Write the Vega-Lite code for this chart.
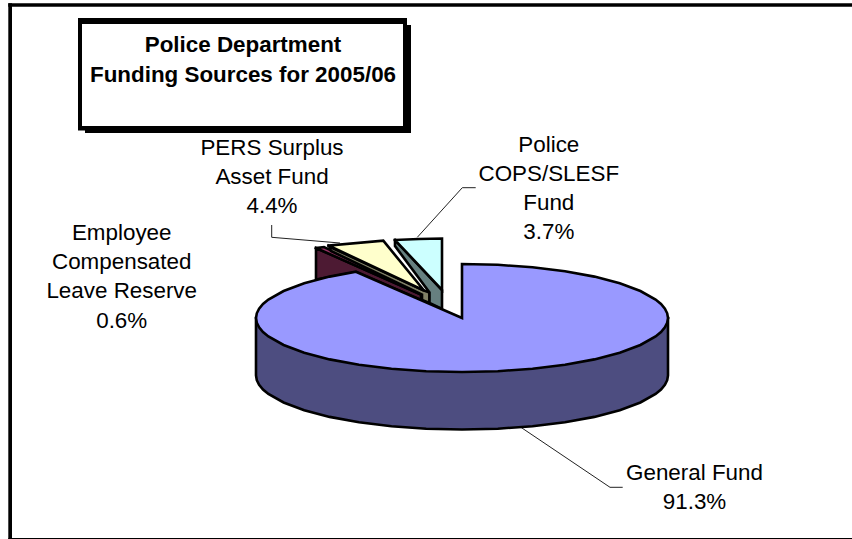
{
  "$schema": "https://vega.github.io/schema/vega-lite/v6.json",
  "width": 852,
  "height": 539,
  "padding": 0,
  "autosize": "none",
  "background": "white",
  "config": {"view": {"stroke": null}, "text": {"font": "Liberation Sans"}},
  "resolve": {"scale": {"fill": "independent"}},
  "encoding": {
    "x": {"type": "quantitative", "scale": {"domain": [0, 852], "nice": false, "zero": false}, "axis": null},
    "y": {"type": "quantitative", "scale": {"domain": [539, 0], "nice": false, "zero": false}, "axis": null}
  },
  "layer": [
    {
      "data": {"values": [
        {"part": "frame", "x": 8.3, "x2": 12, "y": 3.3, "y2": 539},
        {"part": "frame", "x": 8.3, "x2": 852, "y": 3.3, "y2": 6.7},
        {"part": "frame", "x": 8.3, "x2": 852, "y": 538, "y2": 539},
        {"part": "frame", "x": 85, "x2": 411, "y": 25, "y2": 133},
        {"part": "frame", "x": 78, "x2": 407, "y": 18, "y2": 130.5},
        {"part": "panel", "x": 82, "x2": 403, "y": 24, "y2": 126}
      ]},
      "mark": {"type": "rect"},
      "encoding": {
        "x": {"field": "x"},
        "x2": {"field": "x2"},
        "y": {"field": "y"},
        "y2": {"field": "y2"},
        "fill": {"field": "part", "scale": {"domain": ["frame", "panel"], "range": ["#000000", "#ffffff"]}, "legend": null}
      }
    },
    {
      "data": {"values": [
        {"label": "General Fund", "i": 0, "x": 520, "y": 426.7},
        {"label": "General Fund", "i": 1, "x": 610, "y": 487.3},
        {"label": "General Fund", "i": 2, "x": 622.7, "y": 487.3},
        {"label": "PERS", "i": 0, "x": 271.7, "y": 225},
        {"label": "PERS", "i": 1, "x": 271.7, "y": 237.3},
        {"label": "PERS", "i": 2, "x": 340, "y": 243},
        {"label": "Police", "i": 0, "x": 475.7, "y": 187.7},
        {"label": "Police", "i": 1, "x": 462.3, "y": 187.7},
        {"label": "Police", "i": 2, "x": 417.3, "y": 237.3}
      ]},
      "mark": {"type": "line", "stroke": "#222222", "strokeWidth": 1},
      "encoding": {
        "x": {"field": "x"},
        "y": {"field": "y"},
        "detail": {"field": "label"},
        "order": {"field": "i"}
      }
    },
    {
      "data": {"values": [
        {"face": "leave wall", "i": 0, "x": 316, "y": 248},
        {"face": "leave wall", "i": 1, "x": 421, "y": 294.5},
        {"face": "leave wall", "i": 2, "x": 421, "y": 300},
        {"face": "leave wall", "i": 3, "x": 356, "y": 272},
        {"face": "leave wall", "i": 4, "x": 316, "y": 279.5},
        {"face": "leave wall", "i": 5, "x": 316, "y": 248},

        {"face": "leave top", "i": 0, "x": 316, "y": 248},
        {"face": "leave top", "i": 1, "x": 324, "y": 247},
        {"face": "leave top", "i": 2, "x": 421, "y": 293.5},
        {"face": "leave top", "i": 3, "x": 421, "y": 294.5},
        {"face": "leave top", "i": 4, "x": 316, "y": 248},

        {"face": "pers wall", "i": 0, "x": 329, "y": 246.5},
        {"face": "pers wall", "i": 1, "x": 424, "y": 290.5},
        {"face": "pers wall", "i": 2, "x": 429.5, "y": 292.5},
        {"face": "pers wall", "i": 3, "x": 429.5, "y": 303},
        {"face": "pers wall", "i": 4, "x": 422, "y": 300},
        {"face": "pers wall", "i": 5, "x": 422, "y": 294.5},
        {"face": "pers wall", "i": 6, "x": 331, "y": 251},
        {"face": "pers wall", "i": 7, "x": 329, "y": 246.5},

        {"face": "pers top", "i": 0, "x": 328.5, "y": 245.5},
        {"face": "pers top", "i": 1, "x": 383.3, "y": 240.7},
        {"face": "pers top", "i": 2, "x": 424, "y": 290.5},
        {"face": "pers top", "i": 3, "x": 328.5, "y": 245.5},

        {"face": "police wall", "i": 0, "x": 395, "y": 240},
        {"face": "police wall", "i": 1, "x": 442, "y": 290},
        {"face": "police wall", "i": 2, "x": 442, "y": 309},
        {"face": "police wall", "i": 3, "x": 429.5, "y": 303},
        {"face": "police wall", "i": 4, "x": 429.5, "y": 292.5},
        {"face": "police wall", "i": 5, "x": 395, "y": 246},
        {"face": "police wall", "i": 6, "x": 395, "y": 240},

        {"face": "police top", "i": 0, "x": 395, "y": 240},
        {"face": "police top", "i": 1, "x": 419, "y": 239},
        {"face": "police top", "i": 2, "x": 442, "y": 238.5},
        {"face": "police top", "i": 3, "x": 442, "y": 290},
        {"face": "police top", "i": 4, "x": 395, "y": 240},

        {"face": "general wall", "i": 0, "x": 668, "y": 318},
        {"face": "general wall", "i": 1, "x": 668, "y": 375.5},
        {"face": "general wall", "i": 2, "x": 667.2, "y": 380.2},
        {"face": "general wall", "i": 3, "x": 664.9, "y": 384.9},
        {"face": "general wall", "i": 4, "x": 661, "y": 389.5},
        {"face": "general wall", "i": 5, "x": 655.6, "y": 394},
        {"face": "general wall", "i": 6, "x": 640.4, "y": 402.5},
        {"face": "general wall", "i": 7, "x": 619.8, "y": 410.2},
        {"face": "general wall", "i": 8, "x": 594.4, "y": 416.9},
        {"face": "general wall", "i": 9, "x": 565, "y": 422.3},
        {"face": "general wall", "i": 10, "x": 532.5, "y": 426.2},
        {"face": "general wall", "i": 11, "x": 497.8, "y": 428.7},
        {"face": "general wall", "i": 12, "x": 462, "y": 429.5},
        {"face": "general wall", "i": 13, "x": 426.2, "y": 428.7},
        {"face": "general wall", "i": 14, "x": 391.5, "y": 426.2},
        {"face": "general wall", "i": 15, "x": 359, "y": 422.3},
        {"face": "general wall", "i": 16, "x": 329.6, "y": 416.9},
        {"face": "general wall", "i": 17, "x": 304.2, "y": 410.2},
        {"face": "general wall", "i": 18, "x": 283.6, "y": 402.5},
        {"face": "general wall", "i": 19, "x": 268.4, "y": 394},
        {"face": "general wall", "i": 20, "x": 263, "y": 389.5},
        {"face": "general wall", "i": 21, "x": 259.1, "y": 384.9},
        {"face": "general wall", "i": 22, "x": 256.8, "y": 380.2},
        {"face": "general wall", "i": 23, "x": 256, "y": 375.5},
        {"face": "general wall", "i": 24, "x": 256, "y": 318},
        {"face": "general wall", "i": 25, "x": 668, "y": 318},

        {"face": "general top", "i": 0, "x": 668, "y": 318},
        {"face": "general top", "i": 1, "x": 667.2, "y": 322.7},
        {"face": "general top", "i": 2, "x": 664.9, "y": 327.4},
        {"face": "general top", "i": 3, "x": 661, "y": 332},
        {"face": "general top", "i": 4, "x": 655.6, "y": 336.5},
        {"face": "general top", "i": 5, "x": 640.4, "y": 345},
        {"face": "general top", "i": 6, "x": 619.8, "y": 352.7},
        {"face": "general top", "i": 7, "x": 594.4, "y": 359.4},
        {"face": "general top", "i": 8, "x": 565, "y": 364.8},
        {"face": "general top", "i": 9, "x": 532.5, "y": 368.7},
        {"face": "general top", "i": 10, "x": 497.8, "y": 371.2},
        {"face": "general top", "i": 11, "x": 462, "y": 372},
        {"face": "general top", "i": 12, "x": 426.2, "y": 371.2},
        {"face": "general top", "i": 13, "x": 391.5, "y": 368.7},
        {"face": "general top", "i": 14, "x": 359, "y": 364.8},
        {"face": "general top", "i": 15, "x": 329.6, "y": 359.4},
        {"face": "general top", "i": 16, "x": 304.2, "y": 352.7},
        {"face": "general top", "i": 17, "x": 283.6, "y": 345},
        {"face": "general top", "i": 18, "x": 268.4, "y": 336.5},
        {"face": "general top", "i": 19, "x": 263, "y": 332},
        {"face": "general top", "i": 20, "x": 259.1, "y": 327.4},
        {"face": "general top", "i": 21, "x": 256.8, "y": 322.7},
        {"face": "general top", "i": 22, "x": 256, "y": 318},
        {"face": "general top", "i": 23, "x": 256.8, "y": 313.3},
        {"face": "general top", "i": 24, "x": 259.1, "y": 308.6},
        {"face": "general top", "i": 25, "x": 263, "y": 304},
        {"face": "general top", "i": 26, "x": 268.4, "y": 299.5},
        {"face": "general top", "i": 27, "x": 283.6, "y": 291},
        {"face": "general top", "i": 28, "x": 304.2, "y": 283.3},
        {"face": "general top", "i": 29, "x": 329.6, "y": 276.6},
        {"face": "general top", "i": 30, "x": 355.9, "y": 271.7},
        {"face": "general top", "i": 31, "x": 462, "y": 318},
        {"face": "general top", "i": 32, "x": 462, "y": 264},
        {"face": "general top", "i": 33, "x": 497.8, "y": 264.8},
        {"face": "general top", "i": 34, "x": 532.5, "y": 267.3},
        {"face": "general top", "i": 35, "x": 565, "y": 271.2},
        {"face": "general top", "i": 36, "x": 594.4, "y": 276.6},
        {"face": "general top", "i": 37, "x": 619.8, "y": 283.3},
        {"face": "general top", "i": 38, "x": 640.4, "y": 291},
        {"face": "general top", "i": 39, "x": 655.6, "y": 299.5},
        {"face": "general top", "i": 40, "x": 661, "y": 304},
        {"face": "general top", "i": 41, "x": 664.9, "y": 308.6},
        {"face": "general top", "i": 42, "x": 667.2, "y": 313.3},
        {"face": "general top", "i": 43, "x": 668, "y": 318}
      ]},
      "mark": {"type": "line", "stroke": "#000000", "strokeWidth": 2.6, "strokeJoin": "miter", "strokeCap": "square"},
      "encoding": {
        "x": {"field": "x"},
        "y": {"field": "y"},
        "order": {"field": "i"},
        "fill": {
          "field": "face",
          "sort": null,
          "scale": {
            "domain": ["leave wall", "leave top", "pers wall", "pers top", "police wall", "police top", "general wall", "general top"],
            "range": ["#4d1a33", "#993366", "#808066", "#ffffcc", "#668080", "#ccffff", "#4d4d80", "#9999ff"]
          },
          "legend": null
        }
      }
    },
    {
      "data": {"values": [
        {"name": "General Fund", "pct": 91.3, "label": "General Fund\n91.3%", "x": 694.5, "y": 479.5},
        {"name": "PERS Surplus Asset Fund", "pct": 4.4, "label": "PERS Surplus\nAsset Fund\n4.4%", "x": 272, "y": 155},
        {"name": "Employee Compensated Leave Reserve", "pct": 0.6, "label": "Employee\nCompensated\nLeave Reserve\n0.6%", "x": 121.7, "y": 240},
        {"name": "Police COPS/SLESF Fund", "pct": 3.7, "label": "Police\nCOPS/SLESF\nFund\n3.7%", "x": 548.8, "y": 151.7}
      ]},
      "mark": {"type": "text", "align": "center", "baseline": "alphabetic", "font": "Liberation Sans", "fontSize": 22.4, "lineHeight": 29.2, "lineBreak": "\n", "fill": "#000000"},
      "encoding": {
        "x": {"field": "x"},
        "y": {"field": "y"},
        "text": {"field": "label"}
      }
    },
    {
      "data": {"values": [
        {"label": "Police Department\nFunding Sources for 2005/06", "x": 243, "y": 52}
      ]},
      "mark": {"type": "text", "align": "center", "baseline": "alphabetic", "font": "Liberation Sans", "fontWeight": "bold", "fontSize": 22.4, "lineHeight": 30, "lineBreak": "\n", "fill": "#000000"},
      "encoding": {
        "x": {"field": "x"},
        "y": {"field": "y"},
        "text": {"field": "label"}
      }
    }
  ]
}
